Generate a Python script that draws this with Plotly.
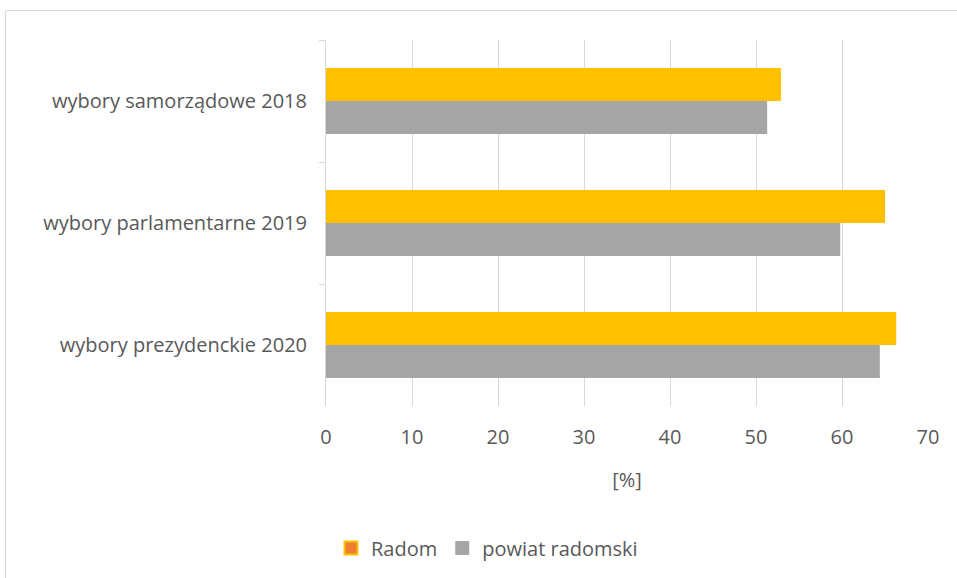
import plotly.graph_objects as go

categories = ["wybory samorządowe 2018", "wybory parlamentarne 2019", "wybory prezydenckie 2020"]
radom = [52.9, 65.0, 66.3]
powiat = [51.3, 59.8, 64.4]
series_names = ["Radom", "powiat radomski"]
x_ticks = [0, 10, 20, 30, 40, 50, 60, 70]

FONT = "Open Sans"
FS = 20
TXT = "#595959"
GRID = "#d9d9d9"
GOLD = "#ffc000"
ORANGE = "#ed7d31"
GRAY = "#a5a5a5"

fig = go.Figure()
fig.add_trace(go.Bar(y=categories, x=radom, name=series_names[0], orientation="h",
                     marker=dict(color=GOLD, line=dict(width=0)), showlegend=False))
fig.add_trace(go.Bar(y=categories, x=powiat, name=series_names[1], orientation="h",
                     marker=dict(color=GRAY, line=dict(width=0)), showlegend=False))
# legend entries
fig.add_trace(go.Scatter(x=[None], y=[None], mode="markers", name=series_names[0],
                         marker=dict(symbol="square", size=13, color=ORANGE,
                                     line=dict(color=GOLD, width=2))))
fig.add_trace(go.Scatter(x=[None], y=[None], mode="markers", name=series_names[1],
                         marker=dict(symbol="square", size=14, color=GRAY,
                                     line=dict(color=GRAY, width=0))))

W, H = 957, 578
L, R, T, B = 326, 29, 40, 171
pw, ph = W - L - R, H - T - B

def px2x(px):
    return (px - L) / pw

def py2y(py):
    return 1 - (py - T) / ph

fig.add_shape(type="rect", xref="paper", yref="paper",
              x0=px2x(5.5), x1=px2x(965), y0=py2y(590), y1=py2y(10.5),
              line=dict(color=GRID, width=1), fillcolor="rgba(0,0,0,0)", layer="below")

fig.update_layout(
    width=W, height=H,
    margin=dict(l=L, r=R, t=T, b=B),
    paper_bgcolor="white", plot_bgcolor="white",
    barmode="group", bargap=0.46, bargroupgap=0,
    font=dict(family=FONT, size=FS, color=TXT),
    showlegend=True,
    legend=dict(orientation="h", x=px2x(487), xanchor="center", y=py2y(548), yanchor="middle",
                font=dict(family=FONT, size=FS, color=TXT), itemwidth=30, traceorder="normal",
                bgcolor="rgba(0,0,0,0)"),
    xaxis=dict(range=[0, 70], tickvals=x_ticks, showgrid=True, gridcolor=GRID, gridwidth=1,
               zeroline=False, showline=False, ticks="", ticklabelstandoff=17,
               tickfont=dict(family=FONT, size=FS, color=TXT),
               title=dict(text="[%]", font=dict(family=FONT, size=FS, color=TXT), standoff=23)),
    yaxis=dict(autorange="reversed", showline=True, linecolor=GRID, linewidth=1,
               ticks="outside", ticklen=6, tickcolor=GRID, tickson="boundaries",
               ticklabelstandoff=14,
               showgrid=False, tickfont=dict(family=FONT, size=FS, color=TXT)),
)

fig.write_html("out.html", config={"displayModeBar": False},
               post_script="document.body.style.margin='0';")
